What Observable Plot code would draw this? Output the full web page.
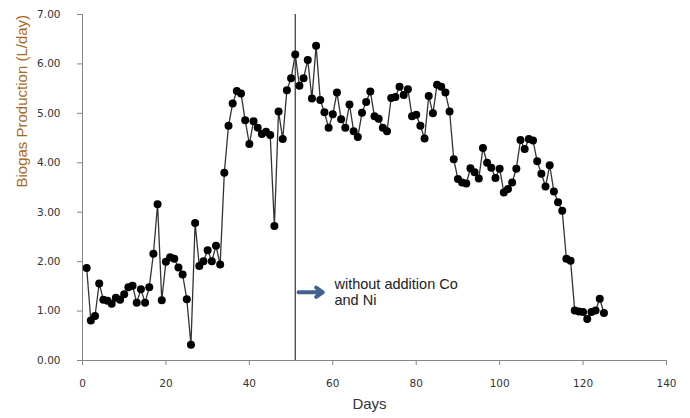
<!DOCTYPE html>
<html><head><meta charset="utf-8">
<script src="https://cdn.jsdelivr.net/npm/d3@7"></script>
<script src="https://cdn.jsdelivr.net/npm/@observablehq/plot@0.6"></script>
<style>body{margin:0;background:#fff} #chart{width:690px;height:418px}</style>
</head><body><div id="chart"></div>
<script>
const days = [1,2,3,4,5,6,7,8,9,10,11,12,13,14,15,16,17,18,19,20,21,22,23,24,25,26,
  27,28,29,30,31,32,33,34,35,36,37,38,39,40,41,42,43,44,45,46,47,48,49,50,51,
  52,53,54,55,56,57,58,59,60,61,62,63,64,65,66,67,68,69,70,71,72,73,74,75,76,77,78,
  79,80,81,82,83,84,85,86,87,88,89,90,91,92,93,94,95,96,97,98,99,100,101,102,103,104,
  105,106,107,108,109,110,111,112,113,114,115,116,117,118,119,120,121,122,123,124,125];
const biogas = [1.87,0.81,0.90,1.56,1.23,1.21,1.15,1.27,1.23,1.34,1.48,1.51,1.17,1.44,1.17,1.48,2.16,3.16,1.22,2.00,2.09,2.06,1.88,1.74,1.24,0.32,
  2.78,1.91,2.01,2.23,2.01,2.32,1.94,3.80,4.75,5.20,5.45,5.40,4.86,4.38,4.84,4.71,4.58,4.63,4.56,2.72,5.04,4.48,5.47,5.71,6.19,
  5.56,5.71,6.08,5.30,6.37,5.27,5.02,4.71,4.98,5.42,4.88,4.71,5.18,4.64,4.52,5.01,5.23,5.44,4.94,4.89,4.71,4.64,5.31,5.33,5.54,5.37,5.49,
  4.94,4.97,4.75,4.49,5.35,5.00,5.58,5.54,5.42,5.04,4.07,3.67,3.60,3.58,3.89,3.81,3.68,4.30,4.00,3.90,3.69,3.88,3.40,3.47,3.60,3.88,
  4.46,4.28,4.48,4.45,4.03,3.78,3.52,3.95,3.42,3.20,3.03,2.06,2.02,1.01,0.99,0.98,0.84,0.98,1.01,1.25,0.96];
const xTicks = [0,20,40,60,80,100,120,140];
const yTicks = [0,1,2,3,4,5,6,7];
const markerDay = [51];
const noteLines = ["without addition Co", "and Ni"];
const noteArrow = [{x1: 51.8, x2: 57.6, y: 1.38}];

const data = days.map((d, i) => ({day: d, value: biogas[i]}));
const notes = noteLines.map((t, i) => ({x: 60.4, y: [1.55, 1.22][i], text: t}));

const axisColor = "#868686";
const chart = Plot.plot({
  width: 690, height: 418,
  marginLeft: 82, marginRight: 24, marginTop: 14, marginBottom: 58,
  style: {fontFamily: "DejaVu Sans", fontSize: "10.5px", color: "#333", background: "#fff"},
  x: {domain: [0, 140], ticks: xTicks, label: null},
  y: {domain: [0, 7], ticks: yTicks, label: null},
  marks: [
    Plot.ruleY([0], {stroke: axisColor}),
    Plot.ruleX([0], {stroke: axisColor}),
    Plot.axisX({ticks: xTicks, tickSize: 5, tickPadding: 14, stroke: axisColor, fill: "#333", label: null}),
    Plot.axisY({ticks: yTicks, tickSize: 5, tickPadding: 17, tickFormat: d3.format(".2f"), stroke: axisColor, fill: "#333", label: null}),
    Plot.ruleX(markerDay, {stroke: "#333", strokeWidth: 1.2}),
    Plot.line(data, {x: "day", y: "value", stroke: "#333", strokeWidth: 1.3}),
    Plot.dot(data, {x: "day", y: "value", r: 4, fill: "#000", stroke: "none"}),
    Plot.arrow(noteArrow, {x1: "x1", x2: "x2", y1: "y", y2: "y", stroke: "#41628f", strokeWidth: 4, headLength: 5, headAngle: 70}),
    Plot.text(notes, {x: "x", y: "y", text: "text", textAnchor: "start", fontFamily: "Liberation Sans", fontSize: 14.5, fill: "#222"}),
    Plot.text(["Biogas Production (L/day)"], {frameAnchor: "left", dx: -60, rotate: -90, fontFamily: "Liberation Sans", fontSize: 15, fill: "#a86a1e"}),
    Plot.text(["Days"], {frameAnchor: "bottom", dy: 48, dx: -5, fontFamily: "Liberation Sans", fontSize: 15, fill: "#333"})
  ]
});
document.getElementById("chart").appendChild(chart);
</script>
</body></html>
